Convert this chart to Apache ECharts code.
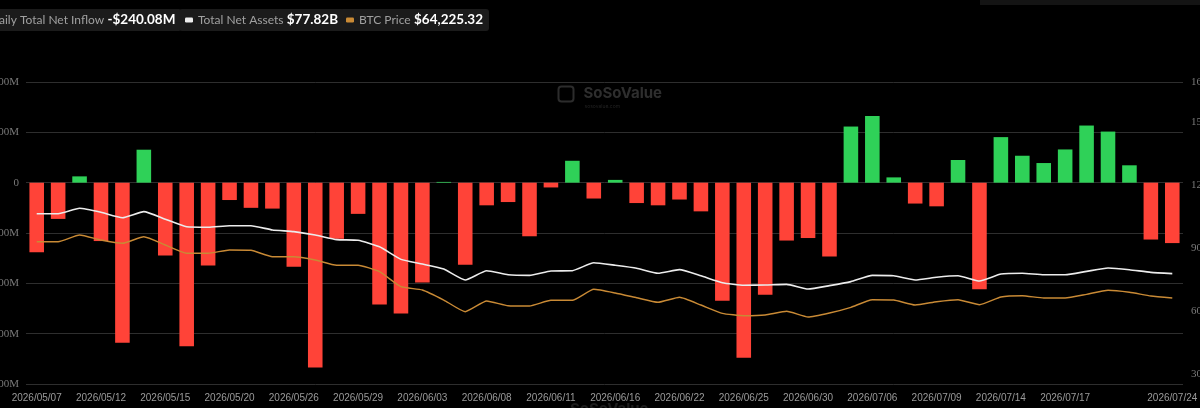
<!DOCTYPE html>
<html>
<head>
<meta charset="utf-8">
<script src="https://cdn.jsdelivr.net/npm/echarts@6/dist/echarts.min.js"></script>
<style>
html,body{margin:0;padding:0;background:#000;}
#c{width:1200px;height:408px;}
</style>
</head>
<body>
<div id="c"></div>
<script>
const dates = [
'2026/05/07','2026/05/08','2026/05/11','2026/05/12','2026/05/13','2026/05/14','2026/05/15','2026/05/18','2026/05/19','2026/05/20',
'2026/05/21','2026/05/22','2026/05/26','2026/05/27','2026/05/28','2026/05/29',
'2026/06/01','2026/06/02','2026/06/03','2026/06/04','2026/06/05','2026/06/08','2026/06/09','2026/06/10','2026/06/11','2026/06/12',
'2026/06/15','2026/06/16','2026/06/17','2026/06/18','2026/06/22','2026/06/23','2026/06/24','2026/06/25','2026/06/26','2026/06/29','2026/06/30',
'2026/07/01','2026/07/02','2026/07/06','2026/07/07','2026/07/08','2026/07/09','2026/07/10','2026/07/13','2026/07/14','2026/07/15',
'2026/07/16','2026/07/17','2026/07/20','2026/07/21','2026/07/22','2026/07/23','2026/07/24'
];
// Daily total net inflow, million USD
const netInflow = [
-276,-144,25,-232,-636,131,-289,-650,-329,-69,
-100,-103,-334,-734,-223,-124,
-484,-520,-397,3,-326,-90,-77,-213,-19,87,
-63,11,-81,-90,-67,-114,-469,-696,-445,-230,-220,
-293,223,265,21,-83,-94,90,-424,181,107,
78,132,227,203,69,-226,-240.08
];
// Total net assets, billion USD
const netAssets = [
106.3,106.3,108.9,107.0,104.4,107.3,103.7,100.1,99.9,100.6,
100.6,98.6,97.8,96.2,94.0,93.7,
90.6,84.6,82.4,80.0,74.8,79.2,77.3,77.0,79.1,79.2,
83.0,81.8,80.4,78.0,79.7,76.8,73.5,72.3,72.4,72.7,70.5,
72.1,74.0,77.0,76.8,74.8,76.1,76.8,74.3,77.6,78.0,
77.3,77.3,78.9,80.5,79.7,78.4,77.82
];
// BTC price, USD
const btcPrice = [
93170,93170,96620,94040,92350,95740,91470,87210,87210,88900,
88750,85460,85460,83760,81040,81040,
77750,70030,68340,63190,57180,62680,60260,60110,63040,63040,
68700,66790,64380,62010,64580,60620,56350,55120,55480,57380,54450,
56510,59440,63350,63190,60620,62320,63350,60780,64740,65400,
64220,64220,66120,68180,67150,65250,64225.32
];
const leftTicks = [400,200,0,-200,-400,-600,-800];
const rightTicks = [25.3,30,60,90,120,150,169];

const names = ['Daily Total Net Inflow','Total Net Assets','BTC Price'];
const last = a => a[a.length-1];
const legendValues = {
  'Daily Total Net Inflow': (last(netInflow) < 0 ? '-$' : '$') + Math.abs(last(netInflow)).toFixed(2) + 'M',
  'Total Net Assets': '$' + last(netAssets).toFixed(2) + 'B',
  'BTC Price': '$' + last(btcPrice).toLocaleString('en-US',{minimumFractionDigits:2, maximumFractionDigits:2})
};
const RED = '#ff4338', GREEN = '#2fd158', WHITE = '#ececec', GOLD = '#c98a35';

function legendCfg(name, left, color){
  return {
    data:[{name:name, itemStyle:{color:color}}],
    left:left, top:9, orient:'horizontal',
    backgroundColor:'#1b1b1b', borderRadius:3, padding:[4,6,4,6],
    itemWidth:8, itemHeight:5, icon:'roundRect',
    selectedMode:false,
    formatter: n => '{n|' + n + '} {v|' + legendValues[n] + '}',
    textStyle:{ rich:{
      n:{color:'#a0a0a0', fontSize:12, fontFamily:'Lato'},
      v:{color:'#ffffff', fontSize:13.5, fontWeight:'bold', fontFamily:'Lato'}
    }}
  };
}

const chart = echarts.init(document.getElementById('c'), null, {renderer:'canvas'});
chart.setOption({
  backgroundColor:'#000',
  animation:false,
  legend:[
    legendCfg(names[0], -29, RED),
    legendCfg(names[1], 179, WHITE),
    legendCfg(names[2], 340, GOLD)
  ],
  graphic:[
    {type:'rect', right:0, top:0, shape:{width:220, height:5}, style:{fill:'#141414'}},
    {type:'group', left:556, top:84, children:[
      {type:'rect', shape:{x:0,y:1,width:15,height:15,r:3}, style:{fill:'none', stroke:'#2c2c2c', lineWidth:2}},
      {type:'text', x:25, y:0, style:{text:'SoSoValue', fill:'#2e2e2e', font:'bold 15px Inter'}},
      {type:'text', x:26, y:18, style:{text:'sosovalue.com', fill:'#222', font:'5px Inter'}}
    ]},
    {type:'text', left:570, top:402, style:{text:'SoSoValue', fill:'#1c1c1c', font:'bold 15px Inter'}}
  ],
  grid:{left:26, right:17, top:82, bottom:24, containLabel:false, outerBoundsMode:'none'},
  xAxis:{
    type:'category', data:dates, boundaryGap:true,
    axisLine:{show:false, onZero:false}, axisTick:{show:false},
    axisLabel:{color:'#9a9a9a', fontSize:10, fontFamily:'Liberation Sans', margin:9,
      interval:(i)=> (i % 3 === 0 && i !== 51) || i === 53}
  },
  yAxis:[
    {type:'value', min:-800, max:400, interval:200,
     axisLine:{show:false}, axisTick:{show:false},
     splitLine:{lineStyle:{color:'#2e2e2e', width:1}},
     axisLabel:{color:'#7a7a7a', fontSize:11, fontFamily:'Liberation Serif', margin:7,
       customValues:leftTicks,
       formatter:v => v === 0 ? '0' : v + 'M'}},
    {type:'value', position:'right', min:25.3, max:169,
     axisLine:{show:false}, axisTick:{show:false}, splitLine:{show:false},
     axisLabel:{color:'#7a7a7a', fontSize:11, fontFamily:'Liberation Serif', margin:8,
       customValues:rightTicks,
       formatter:v => Math.round(v) + 'B'}},
    {type:'value', show:false, min:20000, max:175300, splitLine:{show:false}}
  ],
  series:[
    {name:names[0], type:'bar', data:netInflow, yAxisIndex:0, barCategoryGap:'32%', color:RED,
     itemStyle:{color:p => p.value >= 0 ? GREEN : RED}},
    {name:names[1], type:'line', data:netAssets, yAxisIndex:1, showSymbol:false, symbol:'none',
     color:WHITE, lineStyle:{color:WHITE, width:1.6}, smooth:0.15, z:3},
    {name:names[2], type:'line', data:btcPrice, yAxisIndex:2, showSymbol:false, symbol:'none',
     color:GOLD, lineStyle:{color:GOLD, width:1.4}, smooth:0.15, z:3}
  ]
});
</script>
</body>
</html>
